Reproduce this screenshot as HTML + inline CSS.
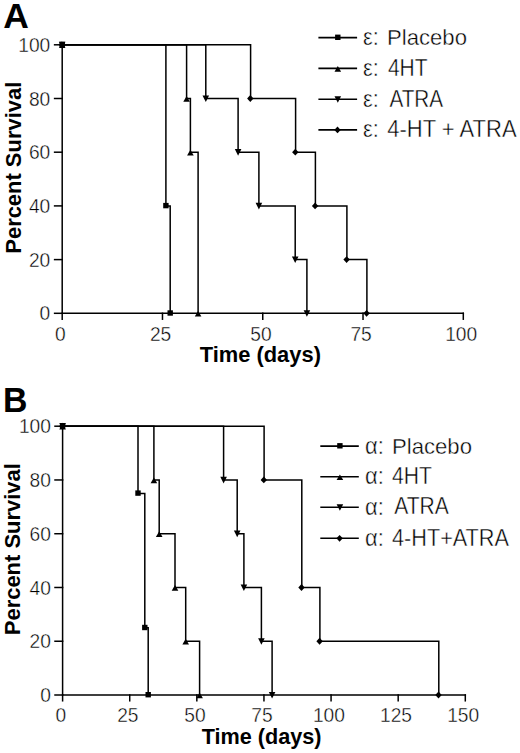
<!DOCTYPE html>
<html><head><meta charset="utf-8"><title>Survival curves</title><style>
html,body{margin:0;padding:0;background:#fff;overflow:hidden;}
svg{display:block;}
text{font-family:"Liberation Sans",sans-serif;fill:#000;}
text.n{stroke:#fff;stroke-width:0.4px;}
</style></head><body>
<svg width="520" height="753" viewBox="0 0 520 753">
<rect width="520" height="753" fill="#fff"/>
<g fill="none" stroke="#000" stroke-width="1.5" stroke-linecap="square"><path d="M62.2 44.8V313.3H463.3"/><path d="M54.6 313.3H62.2"/><path d="M54.6 259.6H62.2"/><path d="M54.6 205.9H62.2"/><path d="M54.6 152.2H62.2"/><path d="M54.6 98.5H62.2"/><path d="M54.6 44.8H62.2"/><path d="M62.2 313.3V319.2"/><path d="M162.48 313.3V319.2"/><path d="M262.75 313.3V319.2"/><path d="M363.02 313.3V319.2"/><path d="M463.3 313.3V319.2"/><path d="M62.2 44.8H165.9V205.9H170.2V313.3"/><path d="M62.2 44.8H186.6V98.5H190.4V152.2H198.1V313.3"/><path d="M62.2 44.8H205.8V98.5H238.1V152.2H258.9V205.9H295.2V259.6H306.9V313.3"/><path d="M62.2 44.8H250.6V98.5H295.6V152.2H315.4V205.9H346.9V259.6H366.9V313.3"/></g><g fill="#000"><rect x="59.5" y="41.8" width="5.4" height="5.4"/><rect x="163.2" y="202.9" width="5.4" height="5.4"/><rect x="167.5" y="310.3" width="5.4" height="5.4"/><path d="M62.2 42.4L65.5 48.1L58.9 48.1Z"/><path d="M186.6 96.1L189.9 101.8L183.3 101.8Z"/><path d="M190.4 149.8L193.7 155.5L187.1 155.5Z"/><path d="M198.1 310.9L201.4 316.6L194.8 316.6Z"/><path d="M62.2 48.3L65.5 41.7L58.9 41.7Z"/><path d="M205.8 102L209.1 95.4L202.5 95.4Z"/><path d="M238.1 155.7L241.4 149.1L234.8 149.1Z"/><path d="M258.9 209.4L262.2 202.8L255.6 202.8Z"/><path d="M295.2 263.1L298.5 256.5L291.9 256.5Z"/><path d="M306.9 316.8L310.2 310.2L303.6 310.2Z"/><path d="M61.9 41.4L65.1 44.8L61.9 48.2L58.7 44.8Z"/><path d="M250.3 95.1L253.5 98.5L250.3 101.9L247.1 98.5Z"/><path d="M295.3 148.8L298.5 152.2L295.3 155.6L292.1 152.2Z"/><path d="M315.1 202.5L318.3 205.9L315.1 209.3L311.9 205.9Z"/><path d="M346.6 256.2L349.8 259.6L346.6 263L343.4 259.6Z"/><path d="M366.6 309.9L369.8 313.3L366.6 316.7L363.4 313.3Z"/></g>
<g fill="none" stroke="#000" stroke-width="1.5" stroke-linecap="square"><path d="M62.6 426.2V695H465.3"/><path d="M55 695H62.6"/><path d="M55 641.24H62.6"/><path d="M55 587.48H62.6"/><path d="M55 533.72H62.6"/><path d="M55 479.96H62.6"/><path d="M55 426.2H62.6"/><path d="M62.6 695V700.8"/><path d="M129.72 695V700.8"/><path d="M196.83 695V700.8"/><path d="M263.95 695V700.8"/><path d="M331.07 695V700.8"/><path d="M398.18 695V700.8"/><path d="M465.3 695V700.8"/><path d="M62.6 426.2H138V493.4H144.8V627.8H148.2V695"/><path d="M62.6 426.2H153.9V479.96H159.2V533.72H175V587.48H185.7V641.24H199.6V695"/><path d="M62.6 426.2H223.6V479.96H237.2V533.72H243.9V587.48H261.4V641.24H272.1V695"/><path d="M62.6 426.2H264.1V479.96H301.8V587.48H319.9V641.24H438.8V695"/></g><g fill="#000"><rect x="59.9" y="423.2" width="5.4" height="5.4"/><rect x="135.3" y="490.4" width="5.4" height="5.4"/><rect x="142.1" y="624.8" width="5.4" height="5.4"/><rect x="145.5" y="692" width="5.4" height="5.4"/><path d="M62.6 423.8L65.9 429.5L59.3 429.5Z"/><path d="M153.9 477.56L157.2 483.26L150.6 483.26Z"/><path d="M159.2 531.32L162.5 537.02L155.9 537.02Z"/><path d="M175 585.08L178.3 590.78L171.7 590.78Z"/><path d="M185.7 638.84L189 644.54L182.4 644.54Z"/><path d="M199.6 692.6L202.9 698.3L196.3 698.3Z"/><path d="M62.6 429.7L65.9 423.1L59.3 423.1Z"/><path d="M223.6 483.46L226.9 476.86L220.3 476.86Z"/><path d="M237.2 537.22L240.5 530.62L233.9 530.62Z"/><path d="M243.9 590.98L247.2 584.38L240.6 584.38Z"/><path d="M261.4 644.74L264.7 638.14L258.1 638.14Z"/><path d="M272.1 698.5L275.4 691.9L268.8 691.9Z"/><path d="M62.3 422.8L65.5 426.2L62.3 429.6L59.1 426.2Z"/><path d="M263.8 476.56L267 479.96L263.8 483.36L260.6 479.96Z"/><path d="M301.5 584.08L304.7 587.48L301.5 590.88L298.3 587.48Z"/><path d="M319.6 637.84L322.8 641.24L319.6 644.64L316.4 641.24Z"/><path d="M438.5 691.6L441.7 695L438.5 698.4L435.3 695Z"/></g>
<g fill="none" stroke="#000" stroke-width="1.6"><path d="M318.4 37.6H357.1"/><path d="M318.4 68.4H357.1"/><path d="M318.4 99.25H357.1"/><path d="M318.4 129.9H357.1"/><path d="M320.3 446.1H358.8"/><path d="M320.3 476.8H358.8"/><path d="M320.3 507.3H358.8"/><path d="M320.3 538.3H358.8"/></g>
<g fill="#000"><rect x="335.1" y="34.6" width="5.4" height="5.4"/><path d="M337.8 66L341.1 71.7L334.5 71.7Z"/><path d="M337.8 102.75L341.1 96.15L334.5 96.15Z"/><path d="M337.5 126.5L340.7 129.9L337.5 133.3L334.3 129.9Z"/><rect x="337.2" y="443.1" width="5.4" height="5.4"/><path d="M339.9 474.4L343.2 480.1L336.6 480.1Z"/><path d="M339.9 510.8L343.2 504.2L336.6 504.2Z"/><path d="M339.6 534.9L342.8 538.3L339.6 541.7L336.4 538.3Z"/></g>
<text transform="translate(3.16 27.9) scale(1.0444 1.0194)" font-size="34" font-weight="bold">A</text>
<text transform="translate(3.01 412.3) scale(0.9952 1.0366)" font-size="34" font-weight="bold">B</text>
<text transform="translate(199.65 362.07) scale(0.9959 0.9854)" font-size="22" font-weight="bold">Time (days)</text>
<text transform="translate(201.65 744.1) scale(0.9842 1.0000)" font-size="22" font-weight="bold">Time (days)</text>
<text transform="translate(21.25 253.7) scale(1.0031 0.9973) rotate(-90)" font-size="22" font-weight="bold">Percent Survival</text>
<text transform="translate(19.65 635.2) scale(1.0031 0.9985) rotate(-90)" font-size="22" font-weight="bold">Percent Survival</text>
<text class="n" transform="translate(363.06 45.13) scale(0.9887 1.0917)" font-size="22">&#949;:</text>
<text class="n" transform="translate(387.04 44.75) scale(1.0059 1.0031)" font-size="22">Placebo</text>
<text class="n" transform="translate(387.92 75.7) scale(0.9531 1.0933)" font-size="22">4HT</text>
<text class="n" transform="translate(389.4 106.5) scale(0.9421 1.0667)" font-size="22">ATRA</text>
<text class="n" transform="translate(387.3 137.2) scale(0.9996 1.1000)" font-size="22">4-HT + ATRA</text>
<text class="n" transform="translate(365 453.64) scale(0.9968 1.0583)" font-size="22">&#945;:</text>
<text class="n" transform="translate(391.94 453.65) scale(1.0072 1.0092)" font-size="22">Placebo</text>
<text class="n" transform="translate(392.12 484.3) scale(0.9605 1.1000)" font-size="22">4HT</text>
<text class="n" transform="translate(394.2 514.2) scale(0.9579 1.0533)" font-size="22">ATRA</text>
<text class="n" transform="translate(392.01 545.5) scale(0.9852 1.1133)" font-size="22">4-HT+ATRA</text>
<text class="n" transform="translate(363.06 75.93) scale(0.9887 1.0917)" font-size="22">&#949;:</text>
<text class="n" transform="translate(363.06 106.78) scale(0.9887 1.0917)" font-size="22">&#949;:</text>
<text class="n" transform="translate(363.06 137.43) scale(0.9887 1.0917)" font-size="22">&#949;:</text>
<text class="n" transform="translate(365 484.34) scale(0.9968 1.0583)" font-size="22">&#945;:</text>
<text class="n" transform="translate(365 514.84) scale(0.9968 1.0583)" font-size="22">&#945;:</text>
<text class="n" transform="translate(365 545.84) scale(0.9968 1.0583)" font-size="22">&#945;:</text>
<text class="n" transform="translate(39.56 320.35) scale(0.9700 1.0000)" font-size="19.8">0</text>
<text class="n" transform="translate(40.26 702.05) scale(0.9700 1.0000)" font-size="19.8">0</text>
<text class="n" transform="translate(28.89 266.65) scale(0.9700 1.0000)" font-size="19.8">20</text>
<text class="n" transform="translate(29.59 648.29) scale(0.9700 1.0000)" font-size="19.8">20</text>
<text class="n" transform="translate(28.89 212.95) scale(0.9700 1.0000)" font-size="19.8">40</text>
<text class="n" transform="translate(29.59 594.53) scale(0.9700 1.0000)" font-size="19.8">40</text>
<text class="n" transform="translate(28.89 159.25) scale(0.9700 1.0000)" font-size="19.8">60</text>
<text class="n" transform="translate(29.59 540.77) scale(0.9700 1.0000)" font-size="19.8">60</text>
<text class="n" transform="translate(28.89 105.55) scale(0.9700 1.0000)" font-size="19.8">80</text>
<text class="n" transform="translate(29.59 487.01) scale(0.9700 1.0000)" font-size="19.8">80</text>
<text class="n" transform="translate(18.22 51.85) scale(0.9700 1.0000)" font-size="19.8">100</text>
<text class="n" transform="translate(18.92 433.25) scale(0.9700 1.0000)" font-size="19.8">100</text>
<text class="n" transform="translate(55.07 340.75) scale(0.9700 0.9929)" font-size="19.8">0</text>
<text class="n" transform="translate(149.88 340.75) scale(0.9700 0.9929)" font-size="19.8">25</text>
<text class="n" transform="translate(250.28 340.75) scale(0.9700 0.9929)" font-size="19.8">50</text>
<text class="n" transform="translate(350.43 340.75) scale(0.9700 1.0109)" font-size="19.8">75</text>
<text class="n" transform="translate(445.13 340.75) scale(0.9700 0.9929)" font-size="19.8">100</text>
<text class="n" transform="translate(55.47 722.25) scale(0.9700 1.0000)" font-size="19.8">0</text>
<text class="n" transform="translate(117.13 722.25) scale(0.9700 1.0000)" font-size="19.8">25</text>
<text class="n" transform="translate(184.36 722.25) scale(0.9700 1.0000)" font-size="19.8">50</text>
<text class="n" transform="translate(251.36 722.25) scale(0.9700 1.0182)" font-size="19.8">75</text>
<text class="n" transform="translate(312.9 722.25) scale(0.9700 1.0000)" font-size="19.8">100</text>
<text class="n" transform="translate(380.01 722.25) scale(0.9700 1.0000)" font-size="19.8">125</text>
<text class="n" transform="translate(447.13 722.25) scale(0.9700 1.0000)" font-size="19.8">150</text>
</svg></body></html>
